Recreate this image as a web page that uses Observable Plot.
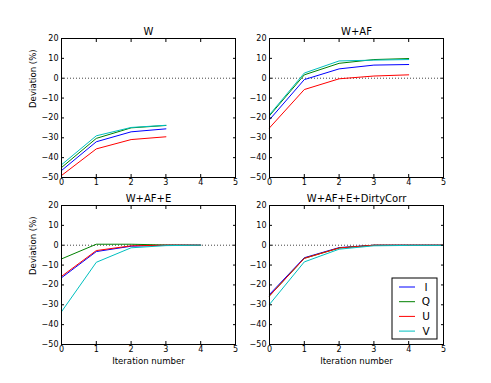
<!DOCTYPE html>
<html><head><meta charset="utf-8">
<script src="https://cdn.jsdelivr.net/npm/d3@7"></script>
<script src="https://cdn.jsdelivr.net/npm/@observablehq/plot@0.6"></script>
<style>
body{margin:0;background:#fff;font-family:"DejaVu Sans",sans-serif;}
#fig{position:relative;width:491px;height:383px;overflow:hidden;background:#fff;}
#fig svg{position:absolute;}
</style></head><body><div id="fig"></div>
<script>
const iterations = [0, 1, 2, 3, 4, 5];
const stokes = ["I", "Q", "U", "V"];
const colors = ["#0000ff", "#008000", "#ff0000", "#00bfbf"];
const panelTitles = ["W", "W+AF", "W+AF+E", "W+AF+E+DirtyCorr"];
const xTicks = [0, 1, 2, 3, 4, 5];
const yTicks = [-50, -40, -30, -20, -10, 0, 10, 20];
const xLabel = "Iteration number";
const yLabel = "Deviation (%)";

// Panel "W"
const W_I = [-46.5, -32.0, -27.0, -25.5];
const W_Q = [-45.0, -30.3, -25.0, -23.8];
const W_U = [-49.0, -35.6, -30.9, -29.5];
const W_V = [-43.6, -29.0, -24.8, -23.7];
// Panel "W+AF"
const WAF_I = [-20.9, -0.7, 4.7, 6.6, 6.9];
const WAF_Q = [-18.9, 1.7, 7.5, 9.4, 9.9];
const WAF_U = [-25.0, -5.7, -0.3, 1.1, 1.7];
const WAF_V = [-18.4, 2.6, 8.7, 9.1, 9.4];
// Panel "W+AF+E"
const WAFE_I = [-16.4, -3.2, -0.5, 0.0, 0.0];
const WAFE_Q = [-6.9, 0.5, 0.5, 0.1, 0.0];
const WAFE_U = [-15.7, -2.7, -0.3, 0.0, 0.0];
const WAFE_V = [-33.5, -8.6, -1.3, -0.2, 0.0];
// Panel "W+AF+E+DirtyCorr"
const WAFED_I = [-24.8, -6.3, -1.2, 0.0, 0.0, 0.0];
const WAFED_Q = [-25.5, -6.6, -1.4, 0.0, 0.0, 0.0];
const WAFED_U = [-25.5, -6.6, -1.4, 0.0, 0.0, 0.0];
const WAFED_V = [-29.8, -8.4, -2.0, -0.3, -0.1, -0.1];

const panels = [
  {title: panelTitles[0], series: [W_I, W_Q, W_U, W_V], left: 26, top: 16, ylab: true, xlab: false},
  {title: panelTitles[1], series: [WAF_I, WAF_Q, WAF_U, WAF_V], left: 234, top: 16, ylab: false, xlab: false},
  {title: panelTitles[2], series: [WAFE_I, WAFE_Q, WAFE_U, WAFE_V], left: 26, top: 183, ylab: true, xlab: true},
  {title: panelTitles[3], series: [WAFED_I, WAFED_Q, WAFED_U, WAFED_V], left: 234, top: 183, ylab: false, xlab: true}
];

const fig = document.getElementById("fig");

for (const p of panels) {
  const data = [];
  stokes.forEach((s, k) => p.series[k].forEach((v, i) => data.push({iter: iterations[i], dev: v, stokes: s})));
  const marks = [
    Plot.ruleY([0], {stroke: "#444", strokeDasharray: "1,2"}),
    Plot.line(data, {x: "iter", y: "dev", z: "stokes", stroke: "stokes", strokeWidth: 1}),
    Plot.axisX(xTicks, {anchor: "bottom", tickSize: -3, tickPadding: 5, label: null, fontSize: 8, stroke: "#000"}),
    Plot.axisX(xTicks, {anchor: "top", tickSize: -3, tickFormat: () => "", label: null}),
    Plot.axisY(yTicks, {anchor: "left", tickSize: -3, tickPadding: 6, label: null, fontSize: 8}),
    Plot.axisY(yTicks, {anchor: "right", tickSize: -3, tickFormat: () => "", label: null}),
    Plot.frame({stroke: "#000"}),
    Plot.text([p.title], {frameAnchor: "top", dy: -7, lineAnchor: "middle", fontSize: 10})
  ];
  if (p.ylab) marks.push(Plot.text([yLabel], {frameAnchor: "left", dx: -28, rotate: -90, lineAnchor: "middle", fontSize: 8.6}));
  if (p.xlab) marks.push(Plot.text([xLabel], {frameAnchor: "bottom", dy: 17, lineAnchor: "middle", fontSize: 8.6}));
  const svg = Plot.plot({
    width: 219, height: 196,
    marginLeft: 35, marginRight: 10, marginTop: 22, marginBottom: 35,
    style: {background: "transparent", fontFamily: "DejaVu Sans", fontSize: "8px", overflow: "visible", color: "#000"},
    x: {domain: [0, 5]},
    y: {domain: [-50, 20]},
    color: {domain: stokes, range: colors},
    marks
  });
  svg.style.left = p.left + "px";
  svg.style.top = p.top + "px";
  fig.appendChild(svg);
}

// Legend
const lg = d3.create("svg").attr("width", 47).attr("height", 63)
  .style("left", "391px").style("top", "277px");
lg.append("rect").attr("x", 1).attr("y", 1).attr("width", 45).attr("height", 61)
  .attr("fill", "#fff").attr("stroke", "#000").attr("stroke-width", 1);
stokes.forEach((s, k) => {
  const cy = 10 + k * 14.7;
  lg.append("line").attr("x1", 8).attr("x2", 24).attr("y1", cy).attr("y2", cy)
    .attr("stroke", colors[k]).attr("stroke-width", 1);
  lg.append("text").attr("x", 35).attr("y", cy).attr("dy", "0.36em")
    .attr("text-anchor", "middle").attr("font-family", "DejaVu Sans").attr("font-size", 10.5).text(s);
});
fig.appendChild(lg.node());
</script></body></html>
